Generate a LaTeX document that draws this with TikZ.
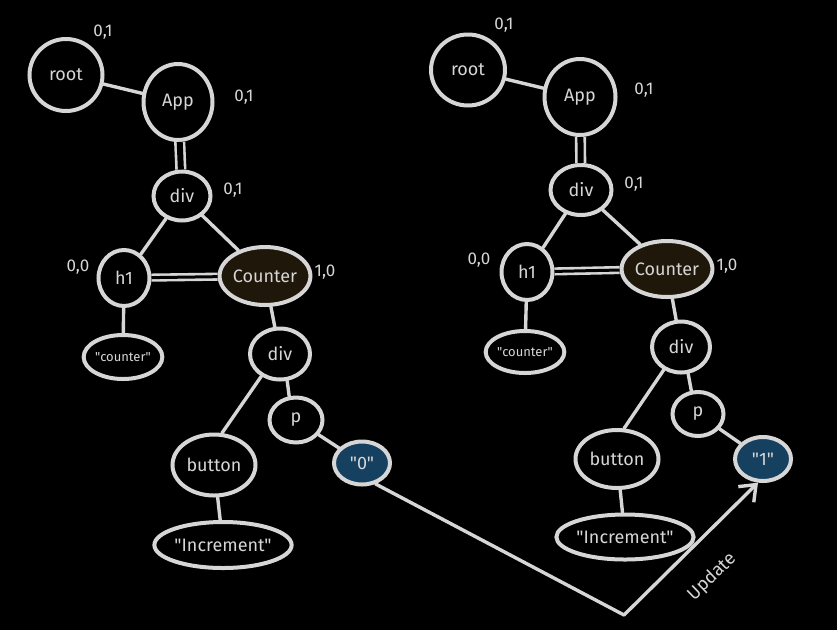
\documentclass[tikz,border=0pt]{standalone}
\usepackage{fontspec}
\setmainfont{Fira Sans}[Ligatures=TeXOff]
\usepackage{tikz}
\usetikzlibrary{shapes.geometric}
\usetikzlibrary{arrows.meta}

\definecolor{ink}{HTML}{D6D6D6}
\definecolor{compfill}{HTML}{1F1709}
\definecolor{valfill}{HTML}{15405F}

\begin{document}
\begin{tikzpicture}[x=1pt, y=-1pt,
  vnode/.style={ellipse, draw=ink, line width=4pt, text=ink, inner sep=0pt, font=\fontsize{18}{20}\selectfont},
  link/.style={draw=ink, line width=3.4pt, line cap=round},
  twin/.style={draw=ink, line width=2.6pt, double=black, double distance=#1},
  flag/.style={text=ink, font=\fontsize{17}{19}\selectfont}]
\fill[black] (0, 0) rectangle (837, 630);

% before the update
\node[vnode, minimum width=73, minimum height=72] (lroot) at (66, 75) {root};
\node[vnode, minimum width=69, minimum height=76] (lapp) at (178, 102) {App};
\node[vnode, minimum width=57, minimum height=49] (ldiv) at (182, 196) {div};
\node[vnode, minimum width=51, minimum height=56] (lh1) at (124, 278) {h1};
\node[vnode, fill=compfill, minimum width=71, minimum height=58] (lcomp) at (265, 276) {Counter};
\node[vnode, minimum width=77, minimum height=44, font=\fontsize{13}{15}\selectfont] (ltext) at (123, 357) {"counter"};
\node[vnode, minimum width=60, minimum height=51] (ldivb) at (280, 354) {div};
\node[vnode, minimum width=53, minimum height=45] (lp) at (296, 420) {p};
\node[vnode, fill=valfill, minimum width=56, minimum height=43] (lval) at (362, 463) {"0"};
\node[vnode, minimum width=83, minimum height=61] (lbtn) at (214, 465) {button};
\node[vnode, minimum width=119, minimum height=46] (linc) at (223, 545) {"Increment"};

\node[flag] (lrootf) at (103, 32) {0,1};
\node[flag] (lappf) at (244, 97) {0,1};
\node[flag] (ldivf) at (233, 190) {0,1};
\node[flag] (lh1f) at (78, 267) {0,0};
\node[flag] (lcompf) at (325, 272) {1,0};

\draw[link] (lroot) -- (lapp);
\draw[twin=6pt] (lapp) -- (ldiv);
\draw[link] (ldiv) -- (lh1);
\draw[link] (ldiv) -- (lcomp);
\draw[twin=3pt] (lh1) -- (lcomp);
\draw[link] (lh1) -- (ltext);
\draw[link] (lcomp) -- (ldivb);
\draw[link] (ldivb.230) -- (lbtn.76);
\draw[link] (ldivb.-75) -- (lp.106);
\draw[link] (lp) -- (lval);
\draw[link] (lbtn) -- (linc);

% after the update
\node[vnode, minimum width=74, minimum height=71] (rroot) at (468, 70) {root};
\node[vnode, minimum width=71, minimum height=76] (rapp) at (580, 97) {App};
\node[vnode, minimum width=61, minimum height=50] (rdiv) at (581, 190) {div};
\node[vnode, minimum width=51, minimum height=56] (rh1) at (527, 272) {h1};
\node[vnode, fill=compfill, minimum width=70, minimum height=56] (rcomp) at (667, 269) {Counter};
\node[vnode, minimum width=78, minimum height=42, font=\fontsize{13}{15}\selectfont] (rtext) at (525, 352) {"counter"};
\node[vnode, minimum width=58, minimum height=51] (rdivb) at (681, 347) {div};
\node[vnode, minimum width=51, minimum height=44] (rp) at (698, 414) {p};
\node[vnode, fill=valfill, minimum width=56, minimum height=44] (rval) at (763, 459) {"1"};
\node[vnode, minimum width=83, minimum height=58] (rbtn) at (617, 459) {button};
\node[vnode, minimum width=120, minimum height=45] (rinc) at (625, 537) {"Increment"};

\node[flag] (rrootf) at (504, 25) {0,1};
\node[flag] (rappf) at (644, 90) {0,1};
\node[flag] (rdivf) at (634, 184) {0,1};
\node[flag] (rh1f) at (479, 260) {0,0};
\node[flag] (rcompf) at (727, 266) {1,0};

\draw[link] (rroot) -- (rapp);
\draw[twin=6pt] (rapp) -- (rdiv);
\draw[link] (rdiv) -- (rh1);
\draw[link] (rdiv) -- (rcomp);
\draw[twin=3pt] (rh1) -- (rcomp);
\draw[link] (rh1) -- (rtext);
\draw[link] (rcomp) -- (rdivb);
\draw[link] (rdivb.233) -- (rbtn.77);
\draw[link] (rdivb.-75) -- (rp.106);
\draw[link] (rp) -- (rval);
\draw[link] (rbtn) -- (rinc);

% update arrow
\coordinate (bend) at (624, 615);
\draw[link, line join=round, -{Straight Barb[length=14pt, width=22pt]}] (lval.-57) -- (bend) -- (rval.-102);
\node[rotate=44, text=ink, font=\fontsize{18}{20}\selectfont] (upd) at (712, 577) {Update};
\end{tikzpicture}
\end{document}
